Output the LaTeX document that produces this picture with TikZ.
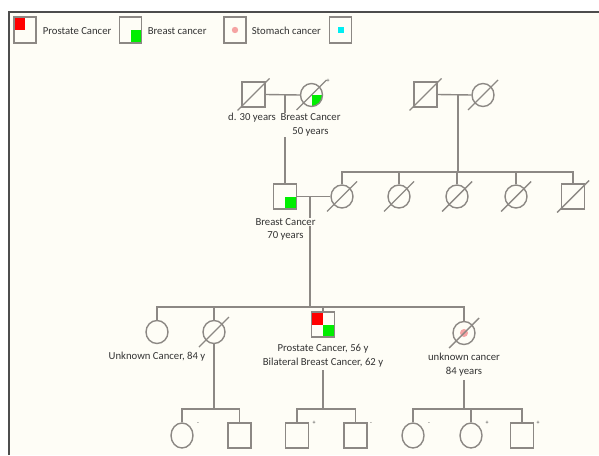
\documentclass[tikz,border=0pt]{standalone}
\usepackage{fontspec}
\setmainfont{Carlito}
\usetikzlibrary{shapes.geometric}
\definecolor{bg}{HTML}{FEFDF6}
\definecolor{ln}{HTML}{8C8884}
\definecolor{framec}{HTML}{4D4D4D}
\definecolor{txt}{HTML}{333333}
\definecolor{pca}{HTML}{FF0000}
\definecolor{bca}{HTML}{00EE00}
\definecolor{sca}{HTML}{F5A3A3}
\definecolor{cya}{HTML}{00EEF2}
% slash through a deceased individual
\newcommand\deadmark[2]{\draw[link] ([shift={(-#2,#2)}]#1.center) -- ([shift={(#2,-#2)}]#1.center);}
\begin{document}
\begin{tikzpicture}[x=1pt,y=-1pt,
  link/.style={draw=ln, line width=1.4pt},
  male/.style={draw=ln, line width=1.4pt, rectangle, minimum width=23pt, minimum height=25pt, inner sep=0pt},
  female/.style={draw=ln, line width=1.4pt, ellipse, minimum width=22pt, minimum height=23pt, inner sep=0pt},
  legsq/.style={male, minimum width=22pt, minimum height=26pt},
  lab/.style={text=txt, font=\fontsize{10.7}{14}\selectfont, inner sep=0.6pt, align=center},
  opaque/.style={fill=bg},
  sign/.style={text=txt, font=\fontsize{6}{6}\selectfont, inner sep=0pt},
  tl/.style={path picture={\fill[pca] (path picture bounding box.north west) rectangle (path picture bounding box.center);}},
  br/.style={path picture={\fill[bca] (path picture bounding box.center) rectangle (path picture bounding box.south east);}},
  both/.style={path picture={\fill[pca] (path picture bounding box.north west) rectangle (path picture bounding box.center);
                            \fill[bca] (path picture bounding box.center) rectangle (path picture bounding box.south east);}},
]
\useasboundingbox (0,0) rectangle (599,455);
% panel
\fill[bg] (9,12) rectangle (599,455);
\draw[framec, line width=1.2pt] (9,455) -- (9,12) -- (599,12);

% legend
\node[legsq, tl] (lg1) at (25,30) {};
\node[lab, anchor=west] (lt1) at (42,31) {Prostate Cancer};
\node[legsq, br] (lg2) at (130.5,30) {};
\node[lab, anchor=west] (lt2) at (147,31) {Breast cancer};
\node[legsq] (lg3) at (235,30) {};
\fill[sca] (lg3.center) circle (3.2);
\node[lab, anchor=west] (lt3) at (251,31) {Stomach cancer};
\node[legsq] (lg4) at (340.5,30) {};
\fill[cya] ([shift={(-3,-3)}]lg4.center) rectangle ([shift={(3,3)}]lg4.center);

% generation I
\node[male] (I1) at (253.5,94.5) {};
\node[female, br] (I2) at (311.5,95) {};
\node[male] (I3) at (425.5,94.5) {};
\node[female] (I4) at (483,95) {};
\deadmark{I1}{16}
\deadmark{I2}{15}
\deadmark{I3}{16}
\deadmark{I4}{15}
\node[sign] (I2s) at (328,81) {+};
\draw[link] (I1.east) -- (I2.west);
\draw[link] (I3.east) -- (I4.west);

% generation II
\node[male, br] (II1) at (285,196.5) {};
\node[female] (II2) at (342,196.5) {};
\node[female] (II3) at (399,196.5) {};
\node[female] (II4) at (457,196.5) {};
\node[female] (II5) at (516,196.5) {};
\node[male] (II6) at (573,196.5) {};
\deadmark{II2}{15}
\deadmark{II3}{15}
\deadmark{II4}{15}
\deadmark{II5}{15}
\deadmark{II6}{16}
\coordinate (c1) at (285,95);
\draw[link] (c1) -- (II1.north);
\coordinate (c2) at (458,95);
\coordinate (s2) at (458,172);
\draw[link] (c2) -- (s2);
\draw[link] (II2.north) |- (s2) -| (II6.north);
\draw[link] (II3.north) -- (II3.north |- s2);
\draw[link] (II4.north) -- (II4.north |- s2);
\draw[link] (II5.north) -- (II5.north |- s2);
\draw[link] (II1.east) -- (II2.west);

% generation III
\coordinate (c3) at (310,196.5);
\coordinate (s3) at (310,307);
\draw[link] (c3) -- (s3);
\node[female] (III1) at (157,332) {};
\node[female] (III2) at (214,332) {};
\node[male, both] (III3) at (323,324.5) {};
\node[female] (III4) at (464,333) {};
\fill[sca] (III4.center) circle (4);
\deadmark{III2}{15}
\deadmark{III4}{15}
\draw[link] (III1.north) |- (s3) -| (III4.north);
\draw[link] (III2.north) -- (III2.north |- s3);
\draw[link] (III3.north) -- (III3.north |- s3);

% generation IV
\node[female, minimum height=25pt] (IV1) at (182,435.5) {};
\node[male] (IV2) at (239.5,435.5) {};
\node[male] (IV3) at (297,435.5) {};
\node[male] (IV4) at (355.5,435.5) {};
\node[female, minimum height=25pt] (IV5) at (413,435.5) {};
\node[female, minimum height=25pt] (IV6) at (471,435.5) {};
\node[male] (IV7) at (522,435.5) {};
\node[sign] (IV1s) at (198,424) {-};
\node[sign] (IV3s) at (314,423) {+};
\node[sign] (IV4s) at (371,424) {-};
\node[sign] (IV5s) at (429,424) {-};
\node[sign] (IV6s) at (487,423) {+};
\node[sign] (IV7s) at (538,423) {+};

\coordinate (s4a) at (214,409);
\draw[link] (III2.south) -- (s4a);
\draw[link] (IV1.north) |- (s4a) -| (IV2.north);

\coordinate (d3) at (323,370);
\coordinate (s4b) at (323,409);
\draw[link] (d3) -- (s4b);
\draw[link] (IV3.north) |- (s4b) -| (IV4.north);

\coordinate (d4) at (464,380);
\coordinate (s4c) at (464,409);
\draw[link] (d4) -- (s4c);
\draw[link] (IV5.north) |- (s4c) -| (IV7.north);
\draw[link] (IV6.north) -- (IV6.north |- s4c);

% labels, set over the connectors
\node[lab] (I1l) at (252,118) {d. 30 years};
\node[lab, opaque] (I2l) at (310.5,125) {Breast Cancer\\50 years};
\node[lab, opaque] (II1la) at (285.5,222) {Breast Cancer};
\node[lab] (II1lb) at (285.5,236) {70 years};
\node[lab] (III1l) at (157,357) {Unknown Cancer, 84 y};
\node[lab] (III3l) at (323,356) {Prostate Cancer, 56 y\\Bilateral Breast Cancer, 62 y};
\node[lab] (III4l) at (464,365) {unknown cancer\\84 years};
\end{tikzpicture}
\end{document}
